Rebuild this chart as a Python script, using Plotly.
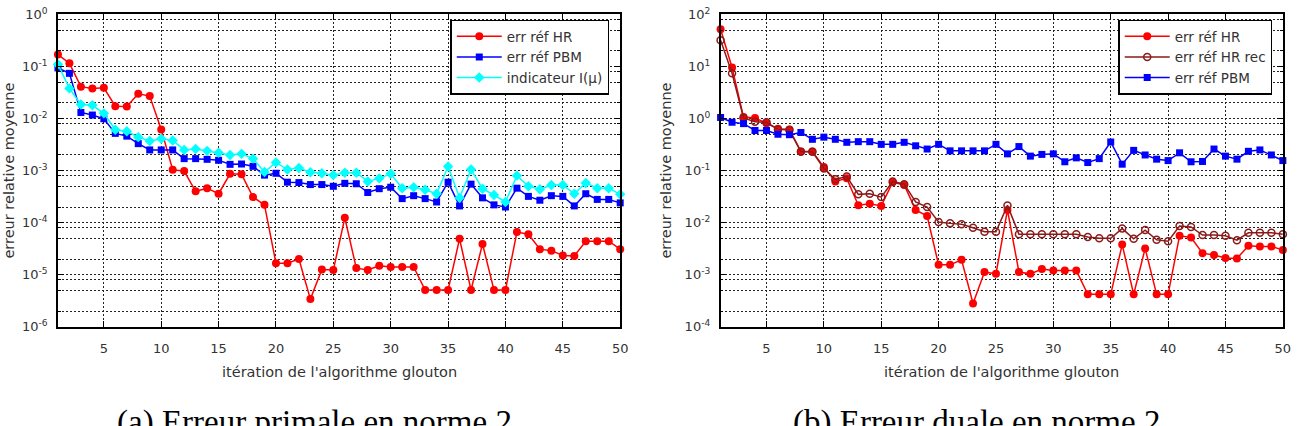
import plotly.graph_objects as go

# ---------------- data ----------------
iterations = list(range(1, 51))

# (a) primal error
primal_err_hr = [0.17, 0.116, 0.041, 0.038, 0.039, 0.0173, 0.017, 0.030, 0.027, 0.0062,
                 0.00104, 0.00098, 4.0e-4, 4.6e-4, 3.6e-4, 8.7e-4, 8.5e-4, 3.1e-4, 2.2e-4, 1.66e-5,
                 1.66e-5, 2.0e-5, 3.4e-6, 1.26e-5, 1.23e-5, 1.24e-4, 1.34e-5, 1.23e-5, 1.48e-5, 1.41e-5,
                 1.41e-5, 1.41e-5, 5.1e-6, 5.1e-6, 5.1e-6, 4.9e-5, 5.1e-6, 3.9e-5, 5.1e-6, 5.1e-6,
                 6.6e-5, 6.0e-5, 3.1e-5, 2.9e-5, 2.35e-5, 2.3e-5, 4.4e-5, 4.4e-5, 4.4e-5, 3.1e-5]
primal_err_pbm = [0.094, 0.074, 0.0131, 0.0117, 0.0099, 0.0052, 0.0046, 0.0033, 0.0025, 0.0025,
                  0.0025, 0.0017, 0.0017, 0.00165, 0.00158, 0.00132, 0.00134, 0.00121, 8.2e-4, 8.9e-4,
                  6.0e-4, 5.9e-4, 5.4e-4, 5.4e-4, 5.0e-4, 5.7e-4, 5.6e-4, 3.8e-4, 4.5e-4, 4.8e-4,
                  2.9e-4, 3.3e-4, 2.9e-4, 2.5e-4, 6.0e-4, 2.1e-4, 5.5e-4, 3.0e-4, 2.2e-4, 2.0e-4,
                  4.6e-4, 3.2e-4, 2.7e-4, 3.3e-4, 3.2e-4, 2.1e-4, 3.6e-4, 2.8e-4, 2.8e-4, 2.4e-4]
primal_indicator = [0.11, 0.038, 0.0186, 0.018, 0.0126, 0.0061, 0.0057, 0.0044, 0.0037, 0.0041,
                    0.0038, 0.0025, 0.0026, 0.0024, 0.0022, 0.0020, 0.0021, 0.0017, 9.4e-4, 1.44e-3,
                    1.05e-3, 1.12e-3, 9.3e-4, 8.9e-4, 8.2e-4, 9.1e-4, 9.1e-4, 6.2e-4, 7.1e-4, 8.7e-4,
                    4.6e-4, 4.8e-4, 4.3e-4, 3.6e-4, 1.2e-3, 3.0e-4, 1.05e-3, 4.5e-4, 3.4e-4, 2.5e-4,
                    8.0e-4, 5.0e-4, 4.4e-4, 5.3e-4, 5.3e-4, 3.6e-4, 5.8e-4, 4.6e-4, 4.6e-4, 3.5e-4]

# (b) dual error
dual_err_hr = [52, 9.6, 1.07, 1.03, 0.81, 0.64, 0.62, 0.234, 0.234, 0.117,
               0.062, 0.071, 0.0216, 0.023, 0.021, 0.060, 0.053, 0.0176, 0.0134, 1.55e-3,
               1.55e-3, 1.94e-3, 2.8e-4, 1.13e-3, 1.04e-3, 0.0176, 1.13e-3, 1.04e-3, 1.29e-3, 1.2e-3,
               1.2e-3, 1.2e-3, 4.2e-4, 4.2e-4, 4.2e-4, 3.8e-3, 4.2e-4, 3.2e-3, 4.2e-4, 4.2e-4,
               5.6e-3, 5.2e-3, 2.6e-3, 2.4e-3, 2.1e-3, 2.05e-3, 3.6e-3, 3.5e-3, 3.5e-3, 3.0e-3]
dual_err_hr_rec = [32, 7.4, 1.03, 0.87, 0.85, 0.62, 0.60, 0.23, 0.23, 0.11,
                   0.068, 0.077, 0.035, 0.036, 0.031, 0.062, 0.055, 0.025, 0.020, 0.0103,
                   0.0097, 0.0093, 0.0080, 0.0067, 0.0067, 0.0215, 0.0060, 0.0060, 0.0060, 0.0060,
                   0.0060, 0.0060, 0.0053, 0.0050, 0.0050, 7.7e-3, 4.9e-3, 7.2e-3, 4.7e-3, 4.4e-3,
                   8.6e-3, 8.3e-3, 5.8e-3, 5.8e-3, 5.6e-3, 4.6e-3, 6.4e-3, 6.4e-3, 6.4e-3, 6.0e-3]
dual_err_pbm = [1.05, 0.85, 0.80, 0.59, 0.59, 0.50, 0.49, 0.54, 0.40, 0.44,
                0.40, 0.35, 0.36, 0.36, 0.32, 0.32, 0.35, 0.30, 0.26, 0.32,
                0.24, 0.24, 0.24, 0.24, 0.32, 0.21, 0.29, 0.19, 0.205, 0.21,
                0.148, 0.176, 0.143, 0.17, 0.355, 0.133, 0.245, 0.20, 0.166, 0.156,
                0.22, 0.148, 0.15, 0.26, 0.19, 0.166, 0.235, 0.25, 0.20, 0.156]

x_tick_vals = [5, 10, 15, 20, 25, 30, 35, 40, 45, 50]
left_exponents = [-6, -5, -4, -3, -2, -1, 0]
right_exponents = [-4, -3, -2, -1, 0, 1, 2]
minor_mantissas = [2, 5, 8]

x_title = "itération de l'algorithme glouton"
y_title = "erreur relative moyenne"
caption_a = "(a) Erreur primale en norme 2"
caption_b = "(b) Erreur duale en norme 2"

# ---------------- style ----------------
FONT = "DejaVu Sans"
TXT = "#333333"
RED = "#ff0000"
DARKRED = "#8b1a1a"
BLUE = "#0000ff"
CYAN = "#00ffff"
GRID = "#222222"
GRIDDASH = "2px,2px"

fig = go.Figure()

def add_line(x, y, name, color, symbol, size, xa, ya, legend, open_marker=False):
    marker = dict(symbol=symbol, size=size, color=color)
    if open_marker:
        marker = dict(symbol="circle-open", size=size, color=color, line=dict(width=1.5, color=color))
    fig.add_trace(go.Scatter(x=x, y=y, mode="lines+markers", name=name,
                             line=dict(color=color, width=1.5), marker=marker,
                             xaxis=xa, yaxis=ya, legend=legend, cliponaxis=False))

add_line(iterations, primal_err_hr, "err réf HR", RED, "circle", 8, "x", "y", "legend")
add_line(iterations, primal_err_pbm, "err réf PBM", BLUE, "square", 7, "x", "y", "legend")
add_line(iterations, primal_indicator, "indicateur I(µ)", CYAN, "diamond", 8, "x", "y", "legend")

add_line(iterations, dual_err_hr, "err réf HR", RED, "circle", 8, "x2", "y2", "legend2")
add_line(iterations, dual_err_hr_rec, "err réf HR rec", DARKRED, "circle-open", 7, "x2", "y2", "legend2", open_marker=True)
add_line(iterations, dual_err_pbm, "err réf PBM", BLUE, "square", 7, "x2", "y2", "legend2")

W, H = 1314, 426
ydom = [1 - 331 / H, 1 - 5.7 / H]
xdom1 = [58.3 / W, 624 / W]
xdom2 = [725 / W, 1290.7 / W]

def xaxis_cfg(domain, anchor):
    return dict(domain=domain, anchor=anchor, range=[1, 50],
                tickmode="array", tickvals=x_tick_vals, ticktext=[str(v) for v in x_tick_vals],
                ticks="inside", ticklen=6, tickwidth=1, tickcolor="black", mirror="allticks",
                showline=True, linecolor="black", linewidth=1.5,
                showgrid=True, gridcolor=GRID, gridwidth=1, griddash=GRIDDASH, zeroline=False,
                tickfont=dict(family=FONT, size=13, color=TXT), ticklabelstandoff=9,
                ticklabeloverflow="allow")

def yaxis_cfg(domain, anchor, exps):
    major = [10.0 ** e for e in exps]
    minor = [m * 10.0 ** e for e in exps[:-1] for m in minor_mantissas]
    return dict(domain=domain, anchor=anchor, type="log", range=[exps[0], exps[-1]],
                tickmode="array", tickvals=major,
                ticktext=["10<sup>%d</sup>" % e for e in exps],
                ticks="inside", ticklen=6, tickwidth=1, tickcolor="black", mirror="allticks",
                showline=True, linecolor="black", linewidth=1.5,
                showgrid=True, gridcolor=GRID, gridwidth=1, griddash=GRIDDASH, zeroline=False,
                tickfont=dict(family=FONT, size=13, color=TXT), ticklabelstandoff=6,
                ticklabeloverflow="allow",
                minor=dict(tickmode="array", tickvals=minor, ticks="inside", ticklen=3,
                           tickcolor="black", showgrid=True, gridcolor=GRID, gridwidth=1,
                           griddash=GRIDDASH))

legend_style = dict(yanchor="top", y=1 - 11 / H, xanchor="right",
                    bgcolor="white", bordercolor="black", borderwidth=1.5,
                    font=dict(family=FONT, size=13.5, color=TXT), itemwidth=45,
                    tracegroupgap=0)

annotations = []
for dom in (xdom1, xdom2):
    cx = (dom[0] + dom[1]) / 2
    annotations.append(dict(x=cx, y=1 - 378 / H, xref="paper", yref="paper", text=x_title,
                            showarrow=False, xanchor="center", yanchor="middle",
                            font=dict(family=FONT, size=14.5, color=TXT)))
annotations.append(dict(x=316 / W, y=1 - 409 / H, xref="paper", yref="paper", text=caption_a,
                        showarrow=False, xanchor="center", yanchor="top",
                        font=dict(family="Liberation Serif", size=33, color="#000000")))
annotations.append(dict(x=982 / W, y=1 - 409 / H, xref="paper", yref="paper", text=caption_b,
                        showarrow=False, xanchor="center", yanchor="top",
                        font=dict(family="Liberation Serif", size=33, color="#000000")))
for xpix in (9, 670):
    annotations.append(dict(x=xpix / W, y=(ydom[0] + ydom[1]) / 2, xref="paper", yref="paper",
                            text=y_title, textangle=-90, showarrow=False,
                            xanchor="center", yanchor="middle",
                            font=dict(family=FONT, size=14.5, color=TXT)))

fig.update_layout(
    width=W, height=H, margin=dict(l=0, r=0, t=0, b=0),
    paper_bgcolor="white", plot_bgcolor="white",
    xaxis=xaxis_cfg(xdom1, "y"), yaxis=yaxis_cfg(ydom, "x", left_exponents),
    xaxis2=xaxis_cfg(xdom2, "y2"), yaxis2=yaxis_cfg(ydom, "x2", right_exponents),
    legend=dict(x=613 / W, **legend_style),
    legend2=dict(x=1280 / W, **legend_style),
    annotations=annotations,
    font=dict(family=FONT, color=TXT),
)

fig.write_html("out.html")
